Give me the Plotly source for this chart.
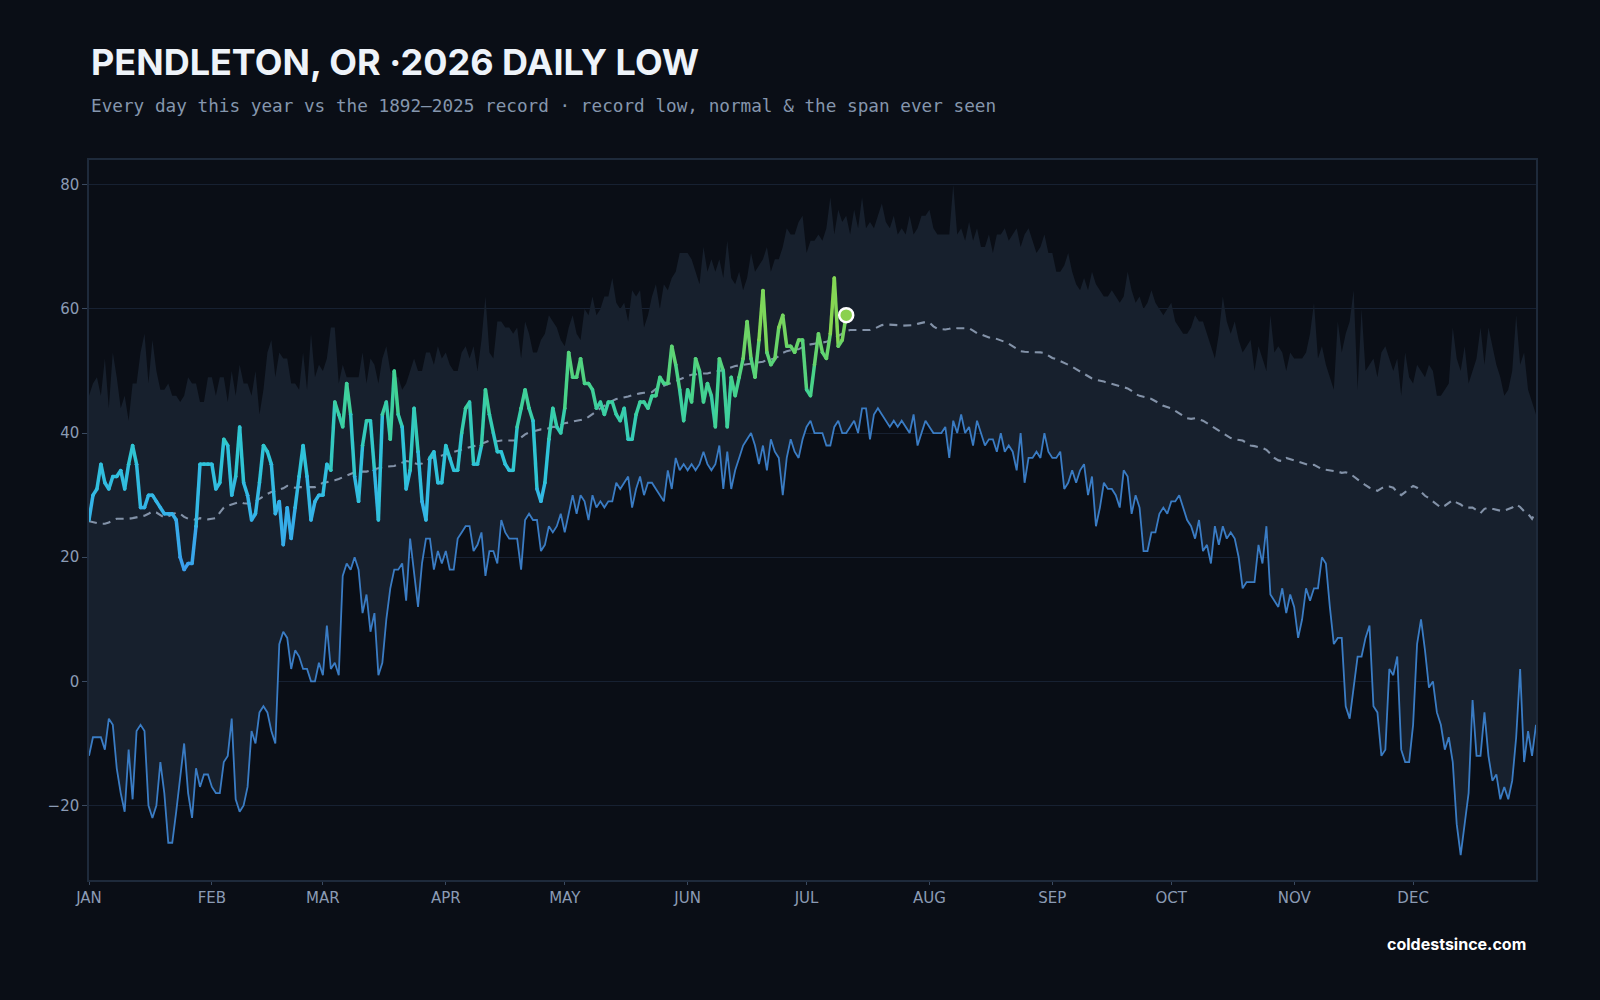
import plotly.graph_objects as go
from plotly.colors import sample_colorscale

# ---------------- data ----------------
month_ticks = [0, 31, 59, 90, 120, 151, 181, 212, 243, 273, 304, 334]
month_labels = ["JAN", "FEB", "MAR", "APR", "MAY", "JUN", "JUL", "AUG", "SEP", "OCT", "NOV", "DEC"]

# record (lowest) daily low 1892-2025, day-of-year 0..365
record_low = [
    -12, -9, -9, -9, -11, -6, -7, -14, -18, -21,
    -11, -19, -8, -7, -8, -20, -22, -20, -13, -18,
    -26, -26, -21, -15, -10, -18, -22, -14, -17, -15,
    -15, -17, -18, -18, -13, -12, -6, -19, -21, -20,
    -17, -8, -10, -5, -4, -5, -8, -10, 6, 8,
    7, 2, 5, 4, 2, 2, 0, 0, 3, 1,
    9, 2, 3, 1, 17, 19, 18, 20, 18, 11,
    14, 8, 11, 1, 3, 10, 15, 18, 18, 19,
    13, 23, 17, 12, 19, 23, 23, 18, 21, 19,
    21, 18, 18, 23, 24, 25, 25, 21, 22, 24,
    17, 21, 21, 19, 26, 24, 23, 23, 23, 18,
    26, 27, 26, 26, 21, 22, 25, 24, 25, 27,
    24, 27, 30, 27, 30, 29, 26, 30, 28, 29,
    28, 29, 29, 32, 31, 32, 33, 28, 31, 33,
    30, 32, 32, 31, 30, 29, 34, 31, 36, 34,
    35, 34, 35, 34, 35, 37, 35, 34, 35, 38,
    31, 37, 31, 34, 36, 38, 39, 40, 38, 35,
    38, 34, 39, 37, 36, 30, 36, 39, 37, 36,
    39, 41, 42, 40, 40, 40, 38, 38, 41, 42,
    40, 40, 41, 42, 40, 44, 44, 39, 43, 44,
    43, 42, 41, 42, 41, 42, 41, 40, 43, 38,
    40, 42, 41, 40, 40, 40, 41, 36, 42, 40,
    43, 40, 41, 38, 42, 40, 38, 39, 39, 37,
    40, 37, 38, 37, 34, 40, 32, 36, 36, 37,
    36, 40, 37, 36, 36, 37, 31, 32, 34, 32,
    34, 35, 30, 33, 25, 28, 32, 31, 31, 30,
    28, 34, 33, 27, 30, 28, 21, 21, 24, 24,
    27, 28, 27, 29, 29, 30, 28, 26, 25, 23,
    26, 21, 22, 19, 25, 22, 25, 23, 24, 23,
    20, 15, 16, 16, 16, 22, 19, 25, 14, 13,
    12, 15, 11, 14, 12, 7, 10, 15, 13, 15,
    15, 20, 19, 12, 6, 7, 7, -4, -6, -1,
    4, 4, 7, 9, -4, -5, -12, -11, 2, 1,
    4, -11, -13, -13, -7, 6, 10, 5, -1, 0,
    -5, -7, -11, -9, -13, -23, -28, -23, -18, -3,
    -12, -12, -5, -12, -16, -15, -19, -17, -19, -16,
    -9, 2, -13, -8, -12, -7,
]

# highest daily low ever seen (top of the span)
record_high = [
    46, 48, 49, 46, 52, 44, 53, 49, 44, 46,
    42, 48, 48, 53, 56, 48, 55, 50, 47, 47,
    48, 46, 46, 45, 46, 49, 48, 48, 45, 45,
    49, 49, 46, 49, 49, 45, 50, 46, 51, 48,
    48, 46, 50, 43, 47, 53, 55, 49, 53, 52,
    52, 48, 48, 47, 53, 47, 56, 49, 51, 50,
    52, 57, 57, 48, 51, 49, 49, 49, 49, 53,
    48, 52, 51, 48, 52, 54, 50, 49, 49, 47,
    48, 50, 52, 50, 50, 53, 53, 51, 54, 52,
    53, 51, 50, 50, 53, 54, 52, 54, 50, 55,
    62, 53, 52, 58, 58, 57, 57, 56, 57, 52,
    58, 56, 53, 53, 55, 56, 59, 58, 57, 55,
    54, 57, 59, 56, 55, 60, 59, 62, 59, 60,
    62, 62, 65, 61, 60, 61, 58, 63, 62, 63,
    57, 59, 62, 64, 60, 64, 63, 65, 66, 69,
    69, 69, 68, 66, 64, 70, 66, 68, 66, 68,
    65, 71, 65, 64, 66, 63, 65, 69, 66, 67,
    68, 70, 66, 68, 68, 70, 73, 72, 72, 74,
    75, 69, 71, 71, 72, 71, 73, 78, 72, 76,
    74, 75, 72, 76, 73, 78, 73, 74, 73, 75,
    77, 74, 73, 75, 72, 73, 72, 75, 72, 73,
    75, 75, 76, 73, 72, 72, 72, 72, 80, 72,
    73, 71, 74, 71, 73, 70, 70, 72, 69, 72,
    72, 73, 71, 72, 73, 70, 72, 73, 71, 69,
    70, 72, 69, 69, 66, 66, 67, 69, 66, 64,
    63, 65, 63, 66, 64, 63, 62, 62, 63, 62,
    61, 62, 66, 63, 61, 62, 60, 61, 63, 61,
    60, 59, 60, 61, 58, 57, 56, 56, 57, 59,
    58, 58, 56, 54, 52, 56, 62, 58, 56, 58,
    55, 53, 54, 55, 50, 54, 52, 50, 59, 53,
    54, 53, 50, 53, 52, 52, 52, 53, 56, 61,
    52, 54, 51, 49, 47, 58, 53, 56, 58, 63,
    47, 60, 50, 51, 52, 49, 53, 54, 52, 50,
    52, 46, 53, 49, 48, 51, 50, 49, 51, 50,
    46, 46, 47, 48, 57, 52, 50, 54, 48, 50,
    52, 57, 51, 57, 54, 51, 49, 46, 47, 50,
    59, 51, 53, 47, 45, 43,
]

# normal daily low
normal_low = [
    25.8, 25.6, 25.5, 25.4, 25.4, 25.6, 26.0, 26.2, 26.2, 26.1,
    26.2, 26.3, 26.4, 26.6, 26.7, 27.0, 27.4, 27.2, 26.8, 26.4,
    26.6, 26.9, 27.2, 27.0, 26.5, 26.2, 26.2, 26.0, 26.3, 26.2,
    26.1, 26.2, 26.3, 27.2, 28.0, 28.3, 28.5, 28.8, 28.9, 28.7,
    28.6, 28.6, 29.0, 29.4, 29.9, 30.2, 30.5, 30.7, 30.8, 31.1,
    31.5, 31.4, 31.2, 31.3, 31.3, 31.2, 31.3, 31.3, 31.6, 32.0,
    32.1, 32.2, 32.4, 32.6, 32.9, 33.2, 33.4, 33.7, 33.8, 33.8,
    33.8, 34.0, 34.2, 34.4, 34.5, 34.6, 34.6, 34.7, 35.0, 35.2,
    35.5, 35.4, 35.2, 35.0, 35.1, 35.5, 35.9, 36.1, 36.2, 36.4,
    36.6, 36.8, 37.0, 37.2, 37.4, 37.6, 37.8, 37.9, 38.0, 38.3,
    38.6, 38.8, 38.8, 38.7, 38.8, 38.8, 38.9, 38.8, 38.8, 39.3,
    39.8, 40.1, 40.3, 40.5, 40.6, 40.6, 40.8, 41.0, 41.0, 41.3,
    41.6, 41.7, 41.9, 42.0, 42.1, 42.2, 42.6, 43.0, 43.5, 44.0,
    44.4, 44.9, 45.2, 45.5, 45.6, 45.7, 45.9, 46.1, 46.3, 46.4,
    46.5, 46.5, 46.6, 47.1, 47.4, 47.6, 47.9, 48.1, 48.4, 48.7,
    49.0, 49.2, 49.4, 49.5, 49.6, 49.6, 49.6, 49.8, 50.0, 50.0,
    50.2, 50.5, 50.7, 50.8, 50.9, 51.0, 51.1, 51.2, 51.3, 51.4,
    51.5, 51.8, 51.9, 52.0, 52.4, 52.9, 53.2, 53.4, 53.5, 53.5,
    53.8, 54.2, 54.3, 54.4, 54.6, 54.6, 54.7, 55.0, 55.3, 55.6,
    56.0, 56.4, 56.6, 56.6, 56.6, 56.7, 56.7, 56.6, 56.8, 57.1,
    57.4, 57.5, 57.5, 57.4, 57.4, 57.3, 57.3, 57.3, 57.4, 57.6,
    57.8, 57.9, 57.8, 57.2, 56.8, 56.7, 56.7, 56.8, 57.0, 56.9,
    56.9, 56.9, 56.9, 56.5, 56.1, 55.9, 55.6, 55.4, 55.4, 55.2,
    55.0, 54.7, 54.4, 54.0, 53.5, 53.2, 53.1, 53.1, 53.1, 53.0,
    53.0, 52.9, 52.5, 52.1, 51.9, 51.6, 51.3, 51.1, 50.7, 50.3,
    49.9, 49.6, 49.2, 48.8, 48.6, 48.5, 48.3, 48.1, 47.9, 47.8,
    47.6, 47.4, 47.2, 46.8, 46.3, 46.0, 45.9, 45.7, 45.5, 45.2,
    44.8, 44.4, 44.2, 44.0, 43.6, 43.2, 42.8, 42.4, 42.3, 42.4,
    42.2, 42.0, 41.6, 41.2, 40.9, 40.5, 40.0, 39.6, 39.2, 39.0,
    38.9, 38.8, 38.4, 38.0, 37.9, 37.8, 37.6, 37.3, 36.7, 36.0,
    35.6, 35.5, 36.0, 35.8, 35.6, 35.5, 35.3, 35.0, 34.8, 34.9,
    34.6, 34.2, 34.1, 34.0, 34.0, 33.8, 33.6, 33.7, 33.5, 33.0,
    32.5, 32.0, 31.6, 31.2, 30.9, 30.7, 31.1, 31.4, 31.4, 31.2,
    30.5, 30.0, 30.5, 31.0, 31.5, 31.2, 30.5, 29.9, 29.5, 29.0,
    28.4, 28.0, 28.3, 28.8, 29.2, 28.8, 28.5, 28.0, 28.0, 28.0,
    27.6, 27.1, 27.8, 28.0, 27.8, 27.6, 27.5, 27.5, 27.7, 28.0,
    28.5, 28.1, 27.4, 27.0, 26.2, 27.4,
]

# 2026 observed daily low, Jan 1 .. Jul 11
obs_2026 = [
    26, 30, 31, 35, 32, 31, 33, 33, 34, 31,
    35, 38, 35, 28, 28, 30, 30, 29, 28, 27,
    27, 27, 26, 20, 18, 19, 19, 25, 35, 35,
    35, 35, 31, 32, 39, 38, 30, 33, 41, 32,
    30, 26, 27, 32, 38, 37, 35, 27, 29, 22,
    28, 23, 28, 33, 38, 33, 26, 29, 30, 30,
    35, 34, 45, 43, 41, 48, 43, 33, 29, 38,
    42, 42, 34, 26, 43, 45, 39, 50, 43, 41,
    31, 34, 44, 37, 29, 26, 36, 37, 32, 32,
    38, 36, 34, 34, 40, 44, 45, 35, 35, 38,
    47, 43, 40, 37, 37, 35, 34, 34, 41, 44,
    47, 44, 42, 31, 29, 32, 39, 44, 41, 40,
    44, 53, 49, 49, 52, 48, 48, 47, 44, 45,
    43, 45, 45, 43, 42, 44, 39, 39, 43, 45,
    45, 44, 46, 46, 49, 48, 48, 54, 51, 47,
    42, 47, 45, 52, 50, 45, 48, 46, 41, 52,
    50, 41, 49, 46, 49, 52, 58, 52, 49, 55,
    63, 53, 51, 52, 57, 59, 54, 54, 53, 55,
    55, 47, 46, 51, 56, 53, 52, 56, 65, 54,
    55, 59,
]

# ---------------- style ----------------
BG = "#0a0e16"
BAND = "#17202d"
GRID = "#172132"
FRAME = "#1e2a3b"
TICKTXT = "#8b9bb4"
LOWLINE = "#3a7cc4"
NORMAL = "#8392a8"

obs_scale = [
    [0.0, "#3b9ded"], [0.208, "#35b4e8"], [0.375, "#2fc4d8"], [0.5, "#37cdae"],
    [0.625, "#46d38c"], [0.771, "#6dd466"], [0.917, "#8fd84d"], [1.0, "#9bdb48"],
]
VMIN, VMAX = 18.0, 66.0

days = list(range(len(record_low)))
obs_days = list(range(len(obs_2026)))

fig = go.Figure()

# span ever seen (band between record low and highest low)
fig.add_trace(go.Scatter(x=days, y=record_low, mode="lines", line=dict(width=0, color=BAND),
                         hoverinfo="skip", showlegend=False))
fig.add_trace(go.Scatter(x=days, y=record_high, mode="lines", line=dict(width=0, color=BAND),
                         fill="tonexty", fillcolor=BAND, hoverinfo="skip", showlegend=False))

# record low line
fig.add_trace(go.Scatter(x=days, y=record_low, mode="lines",
                         line=dict(color=LOWLINE, width=1.8), hoverinfo="skip", showlegend=False))

# normal
fig.add_trace(go.Scatter(x=days, y=normal_low, mode="lines",
                         line=dict(color=NORMAL, width=2.1, dash="8px,6px"),
                         hoverinfo="skip", showlegend=False))

# 2026 line coloured by value
for i in range(len(obs_2026) - 1):
    v = (obs_2026[i] + obs_2026[i + 1]) / 2.0
    t = min(max((v - VMIN) / (VMAX - VMIN), 0.0), 1.0)
    c = sample_colorscale(obs_scale, [t])[0]
    fig.add_trace(go.Scatter(
        x=[obs_days[i], obs_days[i + 1]], y=[obs_2026[i], obs_2026[i + 1]],
        mode="lines+markers", line=dict(color=c, width=3.5),
        marker=dict(color=c, size=3.4), hoverinfo="skip", showlegend=False))

# latest day marker
fig.add_trace(go.Scatter(x=[obs_days[-1]], y=[obs_2026[-1]], mode="markers",
                         marker=dict(size=14, color="#8bd14e", line=dict(color="#ffffff", width=2.5)),
                         hoverinfo="skip", showlegend=False))

fig.update_layout(
    width=1600, height=1000,
    paper_bgcolor=BG, plot_bgcolor=BG,
    margin=dict(l=89, r=64, t=160, b=120),
    font=dict(family="DejaVu Sans", color=TICKTXT, size=15),
    showlegend=False,
    xaxis=dict(range=[0, 365], tickmode="array", tickvals=month_ticks, ticktext=month_labels,
               showgrid=False, zeroline=False, showline=True, mirror=True,
               linecolor=FRAME, linewidth=1.5, ticks="outside", ticklen=3,
               tickcolor="#3a4a60", tickfont=dict(size=15, color=TICKTXT)),
    yaxis=dict(range=[-32, 84], tickmode="array", tickvals=[-20, 0, 20, 40, 60, 80],
               showgrid=True, gridcolor=GRID, gridwidth=1, zeroline=False,
               showline=True, mirror=True, linecolor=FRAME, linewidth=1.5,
               ticks="outside", ticklen=5, tickcolor="#3a4a60",
               tickfont=dict(size=15, color=TICKTXT)),
    annotations=[
        dict(text="<b>PENDLETON, OR ·2026 DAILY LOW</b>", xref="paper", yref="paper",
             x=0.0, y=(880 - 62) / 720, xanchor="left", yanchor="middle", showarrow=False,
             font=dict(family="Inter", size=36, color="#eef3f9")),
        dict(text="Every day this year vs the 1892–2025 record · record low, normal &amp; the span ever seen",
             xref="paper", yref="paper", x=0.0, y=(880 - 106) / 720,
             xanchor="left", yanchor="middle", showarrow=False,
             font=dict(family="DejaVu Sans Mono", size=17.7, color="#8596ad")),
        dict(text="<b>coldestsince.com</b>", xref="paper", yref="paper",
             x=(1528 - 89) / 1447, y=(880 - 944) / 720, xanchor="right", yanchor="middle",
             showarrow=False, font=dict(family="Inter", size=16, color="#ffffff")),
    ],
)

fig.write_html("out.html")
